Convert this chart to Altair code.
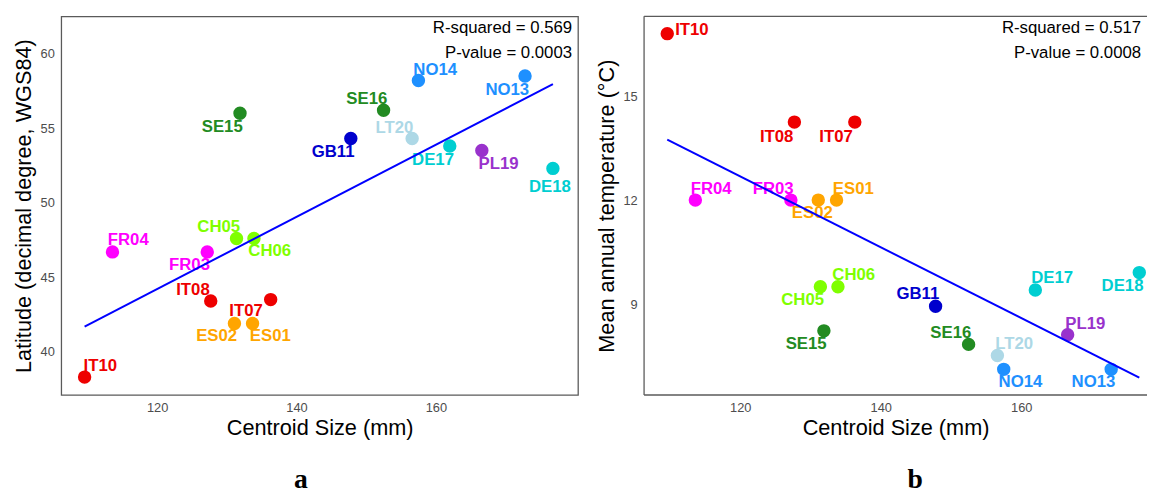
import altair as alt
import numpy as np
import pandas as pd

# ---------------- data ----------------
sites = ["IT10", "FR04", "FR03", "IT08", "ES02", "CH05", "SE15", "ES01", "CH06",
         "IT07", "GB11", "SE16", "LT20", "NO14", "DE17", "PL19", "NO13", "DE18"]
centroid_size = [109.6, 113.6, 127.2, 127.7, 131.1, 131.4, 131.9, 133.7, 133.9,
                 136.3, 147.8, 152.5, 156.6, 157.5, 162.0, 166.6, 172.8, 176.8]
latitude = [38.3, 46.7, 46.7, 43.4, 41.9, 47.6, 56.0, 41.9, 47.6,
            43.5, 54.3, 56.2, 54.3, 58.2, 53.8, 53.5, 58.5, 52.3]
temperature = [16.8, 12.0, 12.0, 14.25, 12.0, 9.5, 8.23, 12.0, 9.5,
               14.25, 8.94, 7.84, 7.52, 7.12, 9.41, 8.12, 7.12, 9.91]
site_colors = ["#EE0000", "#FF00FF", "#FF00FF", "#EE0000", "#FFA500", "#7FFF00",
               "#228B22", "#FFA500", "#7FFF00", "#EE0000", "#0000CD", "#228B22",
               "#ADD8E6", "#1E90FF", "#00CED1", "#9932CC", "#1E90FF", "#00CED1"]
stats_a = ["R-squared = 0.569", "P-value = 0.0003"]
stats_b = ["R-squared = 0.517", "P-value = 0.0008"]
x_ticks = [120, 140, 160]
lat_ticks = [40, 45, 50, 55, 60]
temp_ticks = [9, 12, 15]

# label nudges (pixels, dy positive = downwards)
nudge_a_dx = [16, 16, -18, -18, -18, -18, -18, 18, 16, -25, -18, -17, -18, 17, -17, 17, -18, -3]
nudge_a_dy = [-11, -12, 13, -11, 13, -12, 14, 13, 13, 12, 14, -11, -11, -11, 14, 14, 14, 19]
nudge_b_dx = [25, 16, -18, -18, -6, -18, -18, 17, 16, -19, -18, -18, 17, 17, 17, 18, -18, -17]
nudge_b_dy = [-4, -11, -11, 15, 13, 13, 13, -11, -12, 15, -12, -11, -12, 13, -12, -11, 13, 14]

# ---------------- layout ----------------
FONT = "Liberation Sans"
H = 384
WA, WB = 524, 510
XA, YA = (106.25, 180.4), (37.1, 62.5)
XB, YB = (106.3, 177.9), (6.38, 17.3)
FRAME = "#5a5a5a"

df = pd.DataFrame({"site": sites, "cs": centroid_size, "lat": latitude, "temp": temperature})
df["lx_a"] = df["cs"] + np.array(nudge_a_dx) / (WA / (XA[1] - XA[0]))
df["ly_a"] = df["lat"] - np.array(nudge_a_dy) / (H / (YA[1] - YA[0]))
df["lx_b"] = df["cs"] + np.array(nudge_b_dx) / (WB / (XB[1] - XB[0]))
df["ly_b"] = df["temp"] - np.array(nudge_b_dy) / (H / (YB[1] - YB[0]))

color = alt.Color("site:N", scale=alt.Scale(domain=sites, range=site_colors), legend=None)


def panel(ycol, lx, ly, xdom, ydom, width, ytitle, yticks, stats):
    xaxis = alt.Axis(values=x_ticks, title="Centroid Size (mm)", labelPadding=7, titlePadding=3)
    yaxis = alt.Axis(values=yticks, title=ytitle, labelPadding=7, titlePadding=5)
    xs = alt.Scale(domain=list(xdom), nice=False, zero=False)
    ys = alt.Scale(domain=list(ydom), nice=False, zero=False)
    base = alt.Chart(df)
    pts = base.mark_circle(size=185, opacity=1).encode(
        x=alt.X("cs:Q", scale=xs, axis=xaxis),
        y=alt.Y(f"{ycol}:Q", scale=ys, axis=yaxis),
        color=color,
    )
    labels = base.mark_text(font=FONT, fontWeight="bold", fontSize=17, baseline="middle").encode(
        x=alt.X(f"{lx}:Q", scale=xs, axis=xaxis),
        y=alt.Y(f"{ly}:Q", scale=ys, axis=yaxis),
        text="site:N",
        color=color,
    )
    line = base.transform_regression("cs", ycol).mark_line(color="#0000FF", strokeWidth=2).encode(
        x=alt.X("cs:Q", scale=xs, axis=xaxis),
        y=alt.Y(f"{ycol}:Q", scale=ys, axis=yaxis),
    )
    st1 = alt.Chart(pd.DataFrame({"t": [stats[0]]})).mark_text(
        font=FONT, fontSize=17, align="right", baseline="middle", color="black"
    ).encode(x=alt.value(width - 6), y=alt.value(12), text="t:N")
    st2 = alt.Chart(pd.DataFrame({"t": [stats[1]]})).mark_text(
        font=FONT, fontSize=17, align="right", baseline="middle", color="black"
    ).encode(x=alt.value(width - 6), y=alt.value(37), text="t:N")
    return pts, labels, line, st1, st2


pa = alt.layer(*panel("lat", "lx_a", "ly_a", XA, YA, WA,
                      "Latitude (decimal degree, WGS84)", lat_ticks, stats_a)).properties(
    width=WA, height=H,
    title=alt.TitleParams("a", orient="bottom", font="Liberation Serif", fontSize=28,
                          fontWeight="bold", color="black", dx=-19, offset=28),
)

frame_one = pd.DataFrame({"k": [0]})
left_r = alt.Chart(frame_one).mark_rule(color=FRAME, strokeWidth=1.3).encode(
    x=alt.value(0), y=alt.value(0), y2=alt.value(H))
top_r = alt.Chart(frame_one).mark_rule(color=FRAME, strokeWidth=1.3).encode(
    x=alt.value(0), x2=alt.value(WB), y=alt.value(0))
bot_r = alt.Chart(frame_one).mark_rule(color=FRAME, strokeWidth=1.3).encode(
    x=alt.value(0), x2=alt.value(WB), y=alt.value(H))

pb = alt.layer(*panel("temp", "lx_b", "ly_b", XB, YB, WB,
                      "Mean annual temperature (°C)", temp_ticks, stats_b),
               left_r, top_r, bot_r).properties(
    width=WB, height=H,
    view=alt.ViewBackground(stroke=None),
    title=alt.TitleParams("b", orient="bottom", font="Liberation Serif", fontSize=28,
                          fontWeight="bold", color="black", dx=20, offset=28),
)

chart = alt.hconcat(pa, pb, spacing=16).properties(
    padding={"left": 3, "top": 4, "right": 0, "bottom": 0},
    background="white",
).configure_view(
    stroke=FRAME, strokeWidth=1.3
).configure_axis(
    grid=False, ticks=False, tickSize=0, domain=False,
    labelFont=FONT, labelFontSize=13, labelColor="#4d4d4d",
    titleFont=FONT, titleFontSize=22, titleFontWeight="normal", titleColor="black",
)

chart.save("out.html", embed_options={"renderer": "svg", "actions": False})
